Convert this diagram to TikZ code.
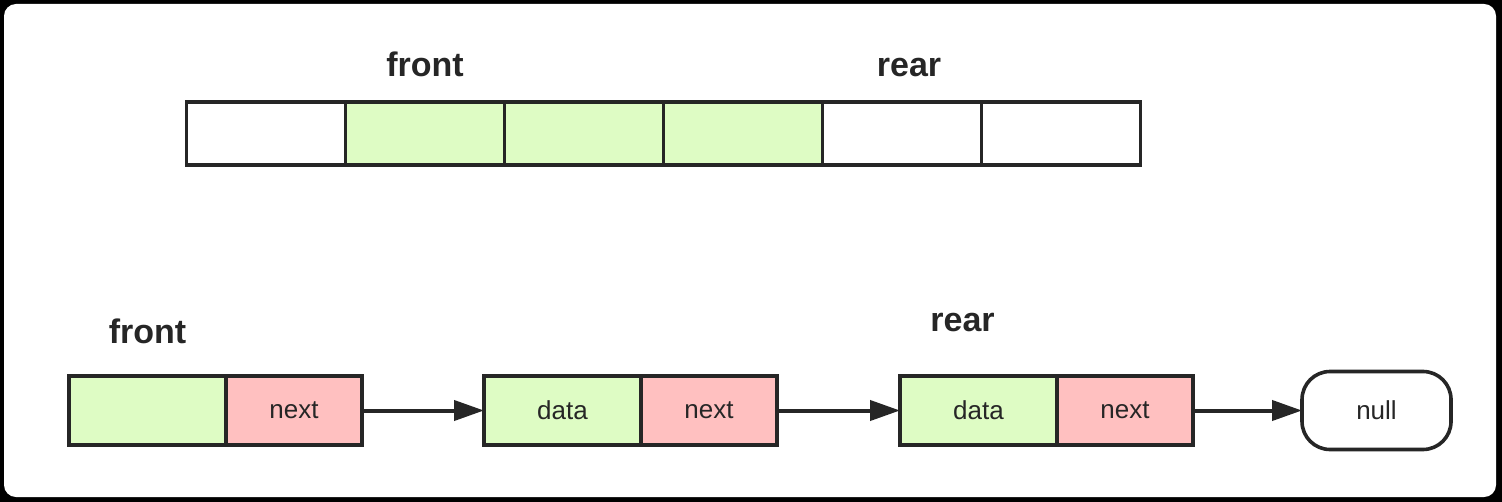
\documentclass[tikz,border=0pt]{standalone}
\usepackage{fontspec}
\setmainfont{Liberation Sans}
\usetikzlibrary{arrows.meta,positioning}
\definecolor{qlightgreen}{RGB}{222,252,196}
\definecolor{qlightred}{RGB}{255,192,192}
\definecolor{qdark}{RGB}{38,38,38}

\begin{document}
\begin{tikzpicture}[x=0.5pt, y=-0.5pt,
  node distance=0pt,
  cell/.style={draw=qdark, line width=1.8pt, minimum width=79.5pt,
               minimum height=31.5pt, inner sep=0pt, outer sep=0pt},
  datacell/.style={cell, fill=qlightgreen, minimum width=78.5pt,
                   minimum height=34.5pt, font=\fontsize{13}{15}\selectfont, text=qdark},
  nextcell/.style={datacell, fill=qlightred, minimum width=68pt},
  nullbox/.style={draw=qdark, line width=1.8pt, rounded corners=14pt,
                  minimum width=74.5pt, minimum height=39pt, inner sep=0pt,
                  outer sep=0pt, font=\fontsize{13}{15}\selectfont, text=qdark},
  lbl/.style={font=\bfseries\fontsize{17}{20}\selectfont, text=qdark, inner sep=0pt},
  arr/.style={-{Triangle[length=15pt, width=10pt]}, line width=2pt, draw=qdark}]

% frame
\useasboundingbox (0,0) rectangle (1502,502);
\fill[black] (0,0) rectangle (1502,502);
\fill[white, rounded corners=6pt] (4,4) rectangle (1496,497);

% array queue
\node[cell] (c0) at (266,133.5) {};
\node[cell, fill=qlightgreen, right=of c0] (c1) {};
\node[cell, fill=qlightgreen, right=of c1] (c2) {};
\node[cell, fill=qlightgreen, right=of c2] (c3) {};
\node[cell, right=of c3] (c4) {};
\node[cell, right=of c4] (c5) {};
\node[lbl, above=12.5pt of c1] (afront) {front};
\node[lbl, above=12.5pt of c4, xshift=3.5pt] (arear) {rear};

% linked queue
\node[datacell] (data1) at (147.5,410.5) {};
\node[nextcell, right=of data1] (next1) {next};
\node[datacell, right=61pt of next1] (data2) {data};
\node[nextcell, right=of data2] (next2) {next};
\node[datacell, right=61.5pt of next2] (data3) {data};
\node[nextcell, right=of data3] (next3) {next};
\node[nullbox, right=54.5pt of next3] (null) {null};
\node[lbl, above=16pt of data1] (lfront) {front};
\node[lbl, above=22pt of data3, xshift=-8pt] (lrear) {rear};

\draw[arr] (next1) -- (data2);
\draw[arr] (next2) -- (data3);
\draw[arr] (next3) -- (null);
\end{tikzpicture}
\end{document}
